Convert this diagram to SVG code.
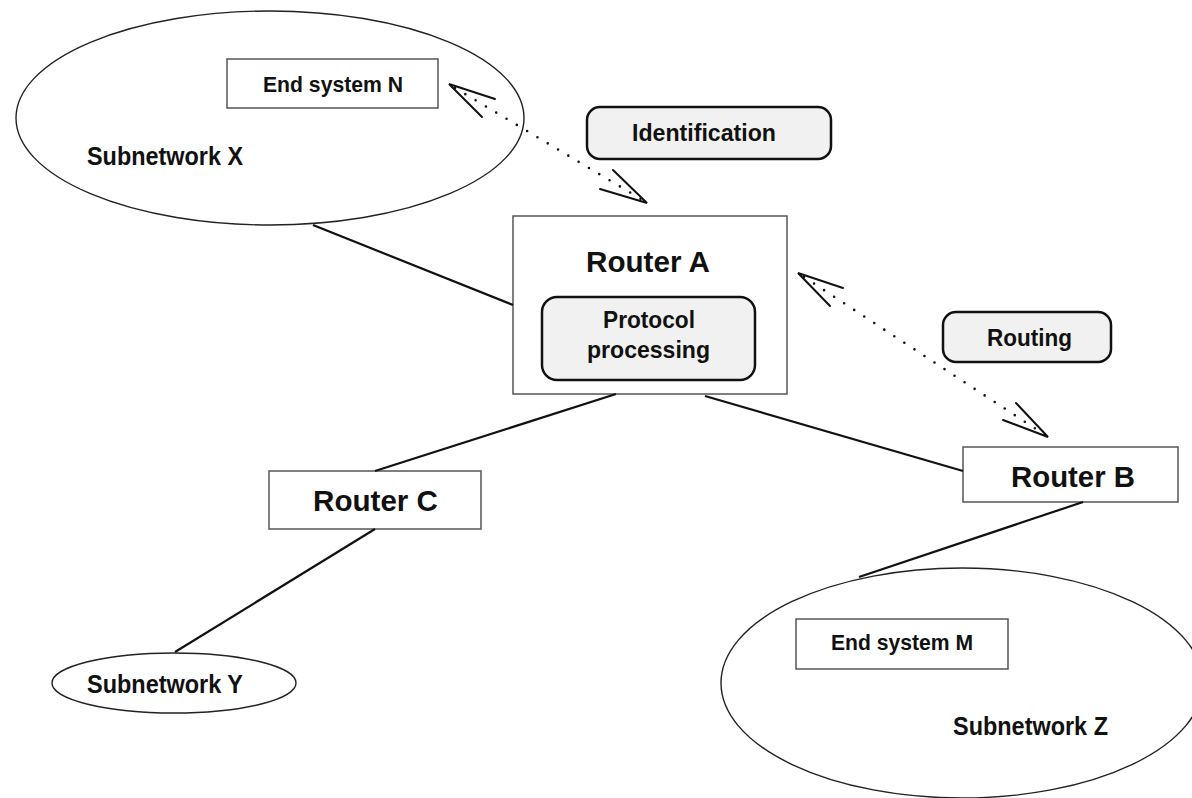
<svg xmlns="http://www.w3.org/2000/svg" width="1192" height="798" viewBox="0 0 1192 798">
<style>
.bg{fill:#ffffff}
.cloud{fill:none;stroke:#222;stroke-width:1.4}
.box{fill:#ffffff;stroke:#555;stroke-width:1.5}
.rbox{fill:#f1f1f1;stroke:#111;stroke-width:2.5}
.t{font-family:"Liberation Sans",Arial,Helvetica,sans-serif;font-weight:bold;fill:#111;text-anchor:start}
.link{stroke:#111;stroke-width:2.2;fill:none}
.dot{stroke:#111;stroke-width:2.6;stroke-linecap:round;stroke-dasharray:0 12;fill:none}
.head{stroke:#111;stroke-width:2;fill:none;stroke-linecap:round;stroke-linejoin:miter}
</style>
<rect class="bg" x="0" y="0" width="1192" height="798"/>

<g id="subnetwork-x">
  <ellipse class="cloud" cx="270" cy="118" rx="254" ry="107"/>
  <text class="t" x="87" y="165" font-size="25" textLength="156" lengthAdjust="spacingAndGlyphs">Subnetwork X</text>
</g>
<g id="end-system-n">
  <rect class="box" x="227" y="59" width="211" height="49"/>
  <text class="t" x="263" y="92" font-size="22" textLength="140" lengthAdjust="spacingAndGlyphs">End system N</text>
</g>
<g id="identification">
  <rect class="rbox" x="587" y="107" width="244" height="52" rx="13"/>
  <text class="t" x="632" y="141" font-size="24" textLength="144" lengthAdjust="spacingAndGlyphs">Identification</text>
</g>
<g id="router-a">
  <rect class="box" x="513" y="216" width="274" height="178"/>
  <text class="t" x="586" y="272" font-size="30" textLength="124" lengthAdjust="spacingAndGlyphs">Router A</text>
</g>
<g id="protocol-processing">
  <rect class="rbox" x="542" y="297" width="213" height="83" rx="15"/>
  <text class="t" x="603" y="328" font-size="24" textLength="92" lengthAdjust="spacingAndGlyphs">Protocol</text>
  <text class="t" x="587" y="358" font-size="24" textLength="123" lengthAdjust="spacingAndGlyphs">processing</text>
</g>
<g id="routing">
  <rect class="rbox" x="943" y="312" width="168" height="50" rx="13"/>
  <text class="t" x="987" y="346" font-size="24" textLength="85" lengthAdjust="spacingAndGlyphs">Routing</text>
</g>
<g id="router-b">
  <rect class="box" x="963" y="447" width="215" height="55"/>
  <text class="t" x="1011" y="487" font-size="30" textLength="124" lengthAdjust="spacingAndGlyphs">Router B</text>
</g>
<g id="router-c">
  <rect class="box" x="269" y="471" width="212" height="58"/>
  <text class="t" x="313" y="511" font-size="30" textLength="125" lengthAdjust="spacingAndGlyphs">Router C</text>
</g>
<g id="subnetwork-y">
  <ellipse class="cloud" cx="174" cy="683" rx="122" ry="30"/>
  <text class="t" x="87" y="693" font-size="25" textLength="156" lengthAdjust="spacingAndGlyphs">Subnetwork Y</text>
</g>
<g id="subnetwork-z">
  <ellipse class="cloud" cx="962" cy="683" rx="241" ry="115"/>
  <text class="t" x="953" y="735" font-size="25" textLength="155" lengthAdjust="spacingAndGlyphs">Subnetwork Z</text>
</g>
<g id="end-system-m">
  <rect class="box" x="796" y="619" width="212" height="50"/>
  <text class="t" x="831" y="650" font-size="22" textLength="142" lengthAdjust="spacingAndGlyphs">End system M</text>
</g>

<g id="connectors">
  <line class="link" x1="313" y1="225" x2="513" y2="305"/>
  <line class="link" x1="616" y1="394" x2="375" y2="471"/>
  <line class="link" x1="375" y1="529" x2="175" y2="652"/>
  <line class="link" x1="705" y1="396" x2="963" y2="471"/>
  <line class="link" x1="1083" y1="502" x2="859" y2="577"/>
  <line class="dot" x1="455" y1="88" x2="641" y2="199"/>
  <polyline class="head" points="495,99 449,84 482,117"/>
  <polyline class="head" points="613,170 647,203 600,189"/>
  <line class="dot" x1="804" y1="277" x2="1042" y2="433"/>
  <polyline class="head" points="843,288 798,273 830,306"/>
  <polyline class="head" points="1016,403 1048,437 1003,420"/>
</g>
</svg>
